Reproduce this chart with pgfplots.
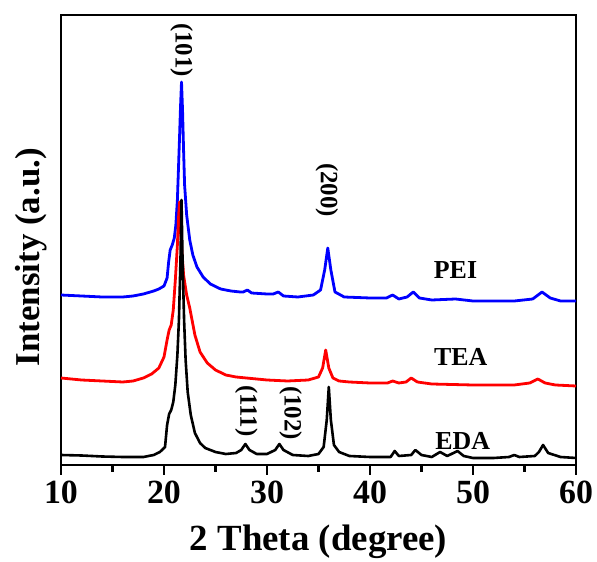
\documentclass[border=0pt]{standalone}
\usepackage{pgfplots}
\pgfplotsset{compat=1.18}
\usepackage{fontspec}
\setmainfont{Liberation Serif}
\definecolor{cblue}{RGB}{0,0,255}
\definecolor{cred}{RGB}{255,0,0}
\begin{document}
\begin{tikzpicture}
\begin{axis}[
  scale only axis,
  width=515bp, height=450bp,
  xmin=10, xmax=60,
  ymin=15, ymax=465,
  y dir=reverse,
  xtick={10,20,30,40,50,60},
  minor xtick={15,25,35,45,55},
  ytick=\empty,
  xtick pos=bottom,
  tick align=outside,
  major tick length=10bp,
  minor tick length=7bp,
  every tick/.style={black, line width=2.2bp},
  axis line style={line width=2.5bp},
  /pgf/number format/assume math mode=true,
  xticklabel style={font=\fontsize{34}{36}\selectfont\bfseries, yshift=-2bp},
  xlabel={2 Theta (degree)},
  ylabel={Intensity (a.u.)},
  xlabel style={font=\fontsize{37}{40}\selectfont\bfseries, at={(axis description cs:0.5,-0.19)}, anchor=base},
  ylabel style={font=\fontsize{35}{38}\selectfont\bfseries, at={(axis description cs:-0.058,0.462)}, anchor=center},
  clip=false,
]
% PEI (blue)
\addplot[cblue, line width=2.8bp, line join=round] coordinates {
(10,295) (12,296) (14,297) (16,297) (17,296) (18,294) (19,291) (19.5,289) (20.0,286)
(20.3,278) (20.45,262) (20.6,250) (20.8,245) (21.0,238) (21.15,225) (21.3,200) (21.4,170) (21.5,140) (21.6,108) (21.7,82)
(21.8,110) (21.9,150) (22.0,185) (22.2,215) (22.5,240) (22.8,255) (23.2,267) (23.8,277) (24.5,284) (25.5,289)
(26.5,291) (27.4,292) (27.7,292) (28.1,290) (28.5,293)
(30,294) (30.6,294) (31.1,292) (31.6,296) (33,297) (34.5,295) (35.2,290) (35.6,270)
(35.9,248) (36.2,270) (36.6,292) (37.5,297) (40,298) (41.6,298) (42.2,295) (42.8,299)
(43.6,297) (44.2,292) (44.8,298) (46,300) (48.3,299) (50,301) (54,301) (55.8,299)
(56.7,292) (57.5,298) (58.5,301) (60,301)
};
% TEA (red)
\addplot[cred, line width=2.8bp, line join=round] coordinates {
(10,378) (12,380) (14,381) (16,382) (17,381) (18,378) (18.8,374) (19.5,368) (20.0,357)
(20.3,340) (20.5,330) (20.7,325) (20.9,310) (21.1,280) (21.3,245) (21.4,220) (21.5,202) (21.6,220) (21.7,245) (21.9,275) (22.2,295)
(22.5,308) (23.0,335) (23.5,352) (24.2,363) (25,370) (26,375) (27,377) (28,378) (30,380)
(32,381) (34,380) (35.0,377) (35.4,368) (35.7,350) (36.0,368) (36.4,378) (37,381)
(38,382) (40,383) (41.7,383) (42.2,381) (42.8,383) (43.5,382) (44.0,378) (44.6,382)
(46,384) (50,385) (54,385) (55.5,383) (56.3,379) (57,383) (58,385) (60,386)
};
% EDA (black)
\addplot[black, line width=2.6bp, line join=round] coordinates {
(10,455) (12,455.5) (14,456.5) (16,457) (18,457) (19,455) (19.6,452) (20.1,447)
(20.3,425) (20.5,414) (20.7,410) (20.9,402) (21.1,385) (21.3,355) (21.45,320) (21.6,260) (21.7,200) (21.8,260) (21.95,320)
(22.1,360) (22.3,392) (22.6,415) (23.0,433) (23.5,443) (24,448) (25,452) (26,454) (27,453)
(27.5,450) (27.9,444) (28.3,450) (29,454) (30,454) (30.8,450) (31.2,444) (31.6,450)
(32.5,455) (34,456) (35,454) (35.5,447) (35.8,420) (36.0,387) (36.2,420) (36.5,445)
(37,452) (38,456) (40,457) (42,457) (42.4,451) (42.8,456) (44.0,455) (44.4,450)
(45.0,455) (46,457) (46.8,452) (47.5,456) (48.5,451) (49.1,456) (50,458) (52,458)
(53.5,457) (54.0,455) (54.5,457) (56,456) (56.4,452) (56.8,445) (57.3,453) (58.5,457) (60,458)
};
\node[rotate=-90, font=\fontsize{25}{27}\selectfont\bfseries] at (axis cs:21.7,50) {(101)};
\node[rotate=-90, font=\fontsize{25}{27}\selectfont\bfseries] at (axis cs:35.8,190) {(200)};
\node[rotate=-90, font=\fontsize{25}{27}\selectfont\bfseries] at (axis cs:28.0,411) {(111)};
\node[rotate=-90, font=\fontsize{25}{27}\selectfont\bfseries] at (axis cs:32.3,413) {(102)};
\node[font=\fontsize{26}{28}\selectfont\bfseries] at (axis cs:48.3,270) {PEI};
\node[font=\fontsize{26}{28}\selectfont\bfseries] at (axis cs:48.8,357) {TEA};
\node[font=\fontsize{26}{28}\selectfont\bfseries] at (axis cs:49.0,441) {EDA};
\end{axis}
\pgfresetboundingbox
\path[use as bounding box] ([xshift=-61bp,yshift=-97bp]current axis.south west) rectangle ([xshift=21bp,yshift=15bp]current axis.north east);
\end{tikzpicture}
\end{document}
